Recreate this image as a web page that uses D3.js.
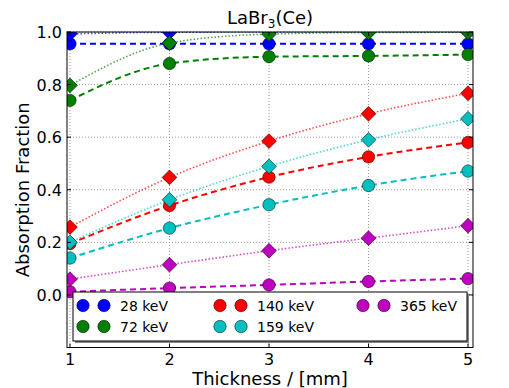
<!DOCTYPE html>
<html>
<head>
<meta charset="utf-8">
<script src="https://cdn.jsdelivr.net/npm/d3@7"></script>
<style>
  body { margin: 0; background: #fff; }
  text { font-family: "DejaVu Sans", sans-serif; fill: #000; }
</style>
</head>
<body>
<script>
// data
var thickness = [1, 2, 3, 4, 5];
var energyLabels = ['28 keV', '72 keV', '140 keV', '159 keV', '365 keV'];
var xTicks = [1, 2, 3, 4, 5];
var yTicks = [0.0, 0.2, 0.4, 0.6, 0.8, 1.0];

// circles, dashed line
var absCircle28 = [0.955, 0.955, 0.955, 0.955, 0.955];
var absCircle72 = [0.740, 0.880, 0.906, 0.909, 0.914];
var absCircle140 = [0.195, 0.340, 0.448, 0.525, 0.580];
var absCircle159 = [0.140, 0.254, 0.343, 0.416, 0.471];
var absCircle365 = [0.012, 0.026, 0.038, 0.051, 0.062];

// diamonds, dotted line
var absDiamond28 = [0.993, 0.999, 1.000, 1.000, 1.000];
var absDiamond72 = [0.797, 0.958, 0.992, 0.998, 0.999];
var absDiamond140 = [0.258, 0.447, 0.585, 0.689, 0.767];
var absDiamond159 = [0.200, 0.362, 0.489, 0.590, 0.670];
var absDiamond365 = [0.060, 0.115, 0.168, 0.216, 0.263];

var circleSeries = [absCircle28, absCircle72, absCircle140, absCircle159, absCircle365];
var diamondSeries = [absDiamond28, absDiamond72, absDiamond140, absDiamond159, absDiamond365];
var colors = ['#0000ff', '#008000', '#ff0000', '#00bfbf', '#bf00bf'];

var svgWidth = 509, svgHeight = 388;
// (window.top is read-only, so no "top" here)
var pLeft = 67, pRight = 473, pTop = 32, pBottom = 347.5;

var svg = d3.select('body').append('svg')
	.attr('width', svgWidth)
	.attr('height', svgHeight);

var x = d3.scaleLinear().domain([0.97, 5.05]).range([pLeft, pRight]);
var y = d3.scaleLinear().domain([-0.2, 1.0]).range([pBottom, pTop]);

svg.append('defs').append('clipPath').attr('id', 'plotclip')
	.append('rect')
	.attr('x', pLeft).attr('y', pTop)
	.attr('width', pRight - pLeft).attr('height', pBottom - pTop);

// grid
var grid = svg.append('g');
grid.selectAll('.gx').data(xTicks).enter().append('line')
	.attr('x1', function(d) { return x(d); })
	.attr('x2', function(d) { return x(d); })
	.attr('y1', pTop).attr('y2', pBottom)
	.attr('stroke', '#999').attr('stroke-width', 1)
	.attr('stroke-dasharray', '1,2');
grid.selectAll('.gy').data(yTicks).enter().append('line')
	.attr('y1', function(d) { return y(d); })
	.attr('y2', function(d) { return y(d); })
	.attr('x1', pLeft).attr('x2', pRight)
	.attr('stroke', '#999').attr('stroke-width', 1)
	.attr('stroke-dasharray', '1,2');

var plot = svg.append('g').attr('clip-path', 'url(#plotclip)');

var line = d3.line()
	.x(function(d, i) { return x(thickness[i]); })
	.y(function(d) { return y(d); })
	.curve(d3.curveMonotoneX);

// dotted lines + dashed lines
diamondSeries.forEach(function(vals, k) {
	plot.append('path')
		.attr('d', line(vals))
		.attr('fill', 'none')
		.attr('stroke', colors[k])
		.attr('stroke-width', 1.6)
		.attr('stroke-opacity', 0.7)
		.attr('stroke-dasharray', '1.5,2');
});
circleSeries.forEach(function(vals, k) {
	plot.append('path')
		.attr('d', line(vals))
		.attr('fill', 'none')
		.attr('stroke', colors[k])
		.attr('stroke-width', 2)
		.attr('stroke-dasharray', '6,4');
});

var diamond = d3.symbol().type(d3.symbolSquare).size(110);

circleSeries.forEach(function(vals, k) {
	plot.selectAll(null).data(vals).enter().append('circle')
		.attr('cx', function(d, i) { return x(thickness[i]); })
		.attr('cy', function(d) { return y(d); })
		.attr('r', 6.2)
		.attr('fill', colors[k])
		.attr('stroke', '#000').attr('stroke-width', 0.5);
	plot.selectAll(null).data(diamondSeries[k]).enter().append('path')
		.attr('d', diamond)
		.attr('transform', function(d, i) {
			return 'translate(' + x(thickness[i]) + ',' + y(d) + ') rotate(45)';
		})
		.attr('fill', colors[k])
		.attr('stroke', '#000').attr('stroke-width', 0.5);
});

// legend
var lg = svg.append('g');
lg.append('rect').attr('x', 75).attr('y', 294).attr('width', 394).attr('height', 49).attr('fill', '#888');
lg.append('rect').attr('x', 73).attr('y', 292).attr('width', 394).attr('height', 49)
	.attr('fill', '#fff').attr('stroke', '#000').attr('stroke-width', 1);
var colX = [83, 220, 363];
var rowY = [305.5, 326.5];
energyLabels.forEach(function(lab, k) {
	var cx = colX[Math.floor(k / 2)], cy = rowY[k % 2];
	[0, 21].forEach(function(dx) {
		lg.append('circle').attr('cx', cx + dx).attr('cy', cy).attr('r', 6.2)
			.attr('fill', colors[k]).attr('stroke', '#000').attr('stroke-width', 0.5);
	});
	lg.append('text').attr('x', cx + 37).attr('y', cy + 5)
		.attr('font-size', 14).text(lab);
});

// frame
svg.append('rect').attr('x', pLeft).attr('y', pTop)
	.attr('width', pRight - pLeft).attr('height', pBottom - pTop)
	.attr('fill', 'none').attr('stroke', '#000').attr('stroke-width', 1);

// ticks inward, all sides
var tk = svg.append('g').attr('stroke', '#000').attr('stroke-width', 1);
xTicks.forEach(function(t) {
	tk.append('line').attr('x1', x(t)).attr('x2', x(t)).attr('y1', pBottom).attr('y2', pBottom - 4);
	tk.append('line').attr('x1', x(t)).attr('x2', x(t)).attr('y1', pTop).attr('y2', pTop + 4);
});
yTicks.forEach(function(t) {
	tk.append('line').attr('y1', y(t)).attr('y2', y(t)).attr('x1', pLeft).attr('x2', pLeft + 4);
	tk.append('line').attr('y1', y(t)).attr('y2', y(t)).attr('x1', pRight).attr('x2', pRight - 4);
});

svg.selectAll('.xl').data(xTicks).enter().append('text')
	.attr('x', function(d) { return x(d); })
	.attr('y', 365)
	.attr('text-anchor', 'middle')
	.attr('font-size', 16)
	.text(function(d) { return d; });
svg.selectAll('.yl').data(yTicks).enter().append('text')
	.attr('x', 62)
	.attr('y', function(d) { return y(d) + 6; })
	.attr('text-anchor', 'end')
	.attr('font-size', 16)
	.text(function(d) { return d3.format('.1f')(d); });

// titles
var title = svg.append('text').attr('x', (pLeft + pRight) / 2).attr('y', 24)
	.attr('text-anchor', 'middle').attr('font-size', 18);
title.append('tspan').text('LaBr');
title.append('tspan').attr('font-size', 12).attr('dy', 4).text('3');
title.append('tspan').attr('dy', -4).text('(Ce)');

svg.append('text').attr('x', (pLeft + pRight) / 2).attr('y', 385)
	.attr('text-anchor', 'middle').attr('font-size', 18)
	.text('Thickness / [mm]');
svg.append('text')
	.attr('transform', 'translate(29,' + ((pTop + pBottom) / 2) + ') rotate(-90)')
	.attr('text-anchor', 'middle').attr('font-size', 18)
	.text('Absorption Fraction');
</script>
</body>
</html>
